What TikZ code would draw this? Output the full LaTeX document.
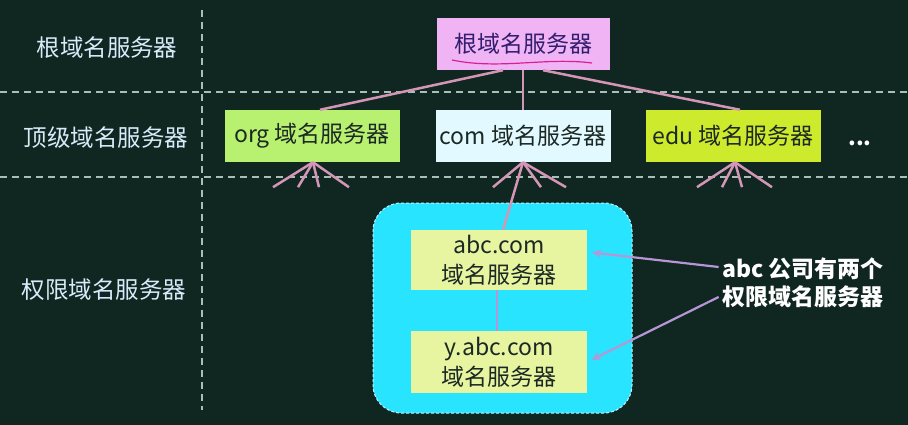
\documentclass[tikz,border=0pt]{standalone}
\usepackage{fontspec}
\setmainfont{Noto Sans CJK SC}
\usetikzlibrary{arrows.meta}

\definecolor{bgcol}{RGB}{16,38,32}
\definecolor{sepcol}{RGB}{170,190,185}
\definecolor{lbltext}{RGB}{215,235,250}
\definecolor{boxtext}{RGB}{28,40,36}
\definecolor{roottext}{RGB}{50,30,110}
\definecolor{rootcol}{RGB}{240,180,245}
\definecolor{orgcol}{RGB}{184,240,112}
\definecolor{comcol}{RGB}{226,250,255}
\definecolor{educol}{RGB}{206,234,44}
\definecolor{grpcol}{RGB}{40,228,255}
\definecolor{abccol}{RGB}{232,245,160}
\definecolor{linkcol}{RGB}{212,150,182}
\definecolor{ptrcol}{RGB}{182,150,212}
\definecolor{inkcol}{RGB}{220,30,150}

\begin{document}
\begin{tikzpicture}[x=1pt,y=-1pt,
  box/.style={inner sep=0pt,minimum width=175,minimum height=52,
    text=boxtext,font=\fontsize{23}{30}\selectfont,align=center},
  lvl/.style={text=lbltext,font=\fontsize{23.5}{28}\selectfont},
  link/.style={draw=linkcol,line width=2.5pt},
  pointer/.style={draw=ptrcol,line width=2.2pt,-{Stealth[length=9pt,width=8pt]},shorten >=5pt},
  sep/.style={draw=sepcol,line width=1.6pt,dash pattern=on 7pt off 5pt}]
  \useasboundingbox[fill=bgcol] (0,0) rectangle (908,425);

  % separators
  \draw[sep] (202,10)--(202,410);
  \draw[sep] (0,92)--(908,92);
  \draw[sep] (0,177)--(908,177);

  % level labels
  \node[lvl] (lroot) at (107,48) {根域名服务器};
  \node[lvl] (ltop) at (106,138) {顶级域名服务器};
  \node[lvl] (lauth) at (104,290) {权限域名服务器};

  % servers
  \node[box,fill=rootcol,text=roottext,minimum width=173] (root) at (523,44) {根域名服务器};
  \draw[inkcol,line width=1.2pt] (452,60) .. controls (500,70) and (545,57) .. (592,63);
  \node[box,fill=orgcol] (org) at (312,136) {org 域名服务器};
  \node[box,fill=comcol] (com) at (523,136) {com 域名服务器};
  \node[box,fill=educol] (edu) at (733,136) {edu 域名服务器};
  \node[text=white,font=\bfseries\fontsize{22}{22}\selectfont] (more) at (860,143) {...};

  \node[draw=white!70!grpcol,densely dashed,line width=1pt,fill=grpcol,rounded corners=28,
    minimum width=259,minimum height=210] (grp) at (502.5,308) {};
  \node[box,fill=abccol,minimum width=176,minimum height=60] (abc) at (499,260) {abc.com\\域名服务器};
  \node[box,fill=abccol,minimum width=176,minimum height=62] (yabc) at (499,362) {y.abc.com\\域名服务器};

  % tree
  \draw[link] ([xshift=-20]root.south) -- ([xshift=8]org.north);
  \draw[link] (root.south) -- (com.north);
  \draw[link] ([xshift=20]root.south) -- ([xshift=7]edu.north);
  \foreach \dx in {-40,-15,6,36}
    \draw[link] ([xshift=1]org.south) -- ++(\dx,25);
  \foreach \dx in {-30,18,43}
    \draw[link] (com.south) -- ++(\dx,25);
  \draw[link] (com.south) -- ([xshift=4]abc.north);
  \foreach \dx in {-38,-13,7,37}
    \draw[link] ([xshift=2]edu.south) -- ++(\dx,25);
  \draw[draw=ptrcol,line width=2.2pt] ([xshift=-2]abc.south) -- ([xshift=-2]yabc.north);

  % note
  \node[text=white,font=\bfseries\fontsize{23}{28}\selectfont,align=left] (note) at (803,283) {abc 公司有两个\\权限域名服务器};
  \draw[pointer] ([yshift=16]note.west) -- ([yshift=8]abc.east);
  \draw[pointer] ([yshift=-14]note.west) -- (yabc.east);
\end{tikzpicture}
\end{document}
